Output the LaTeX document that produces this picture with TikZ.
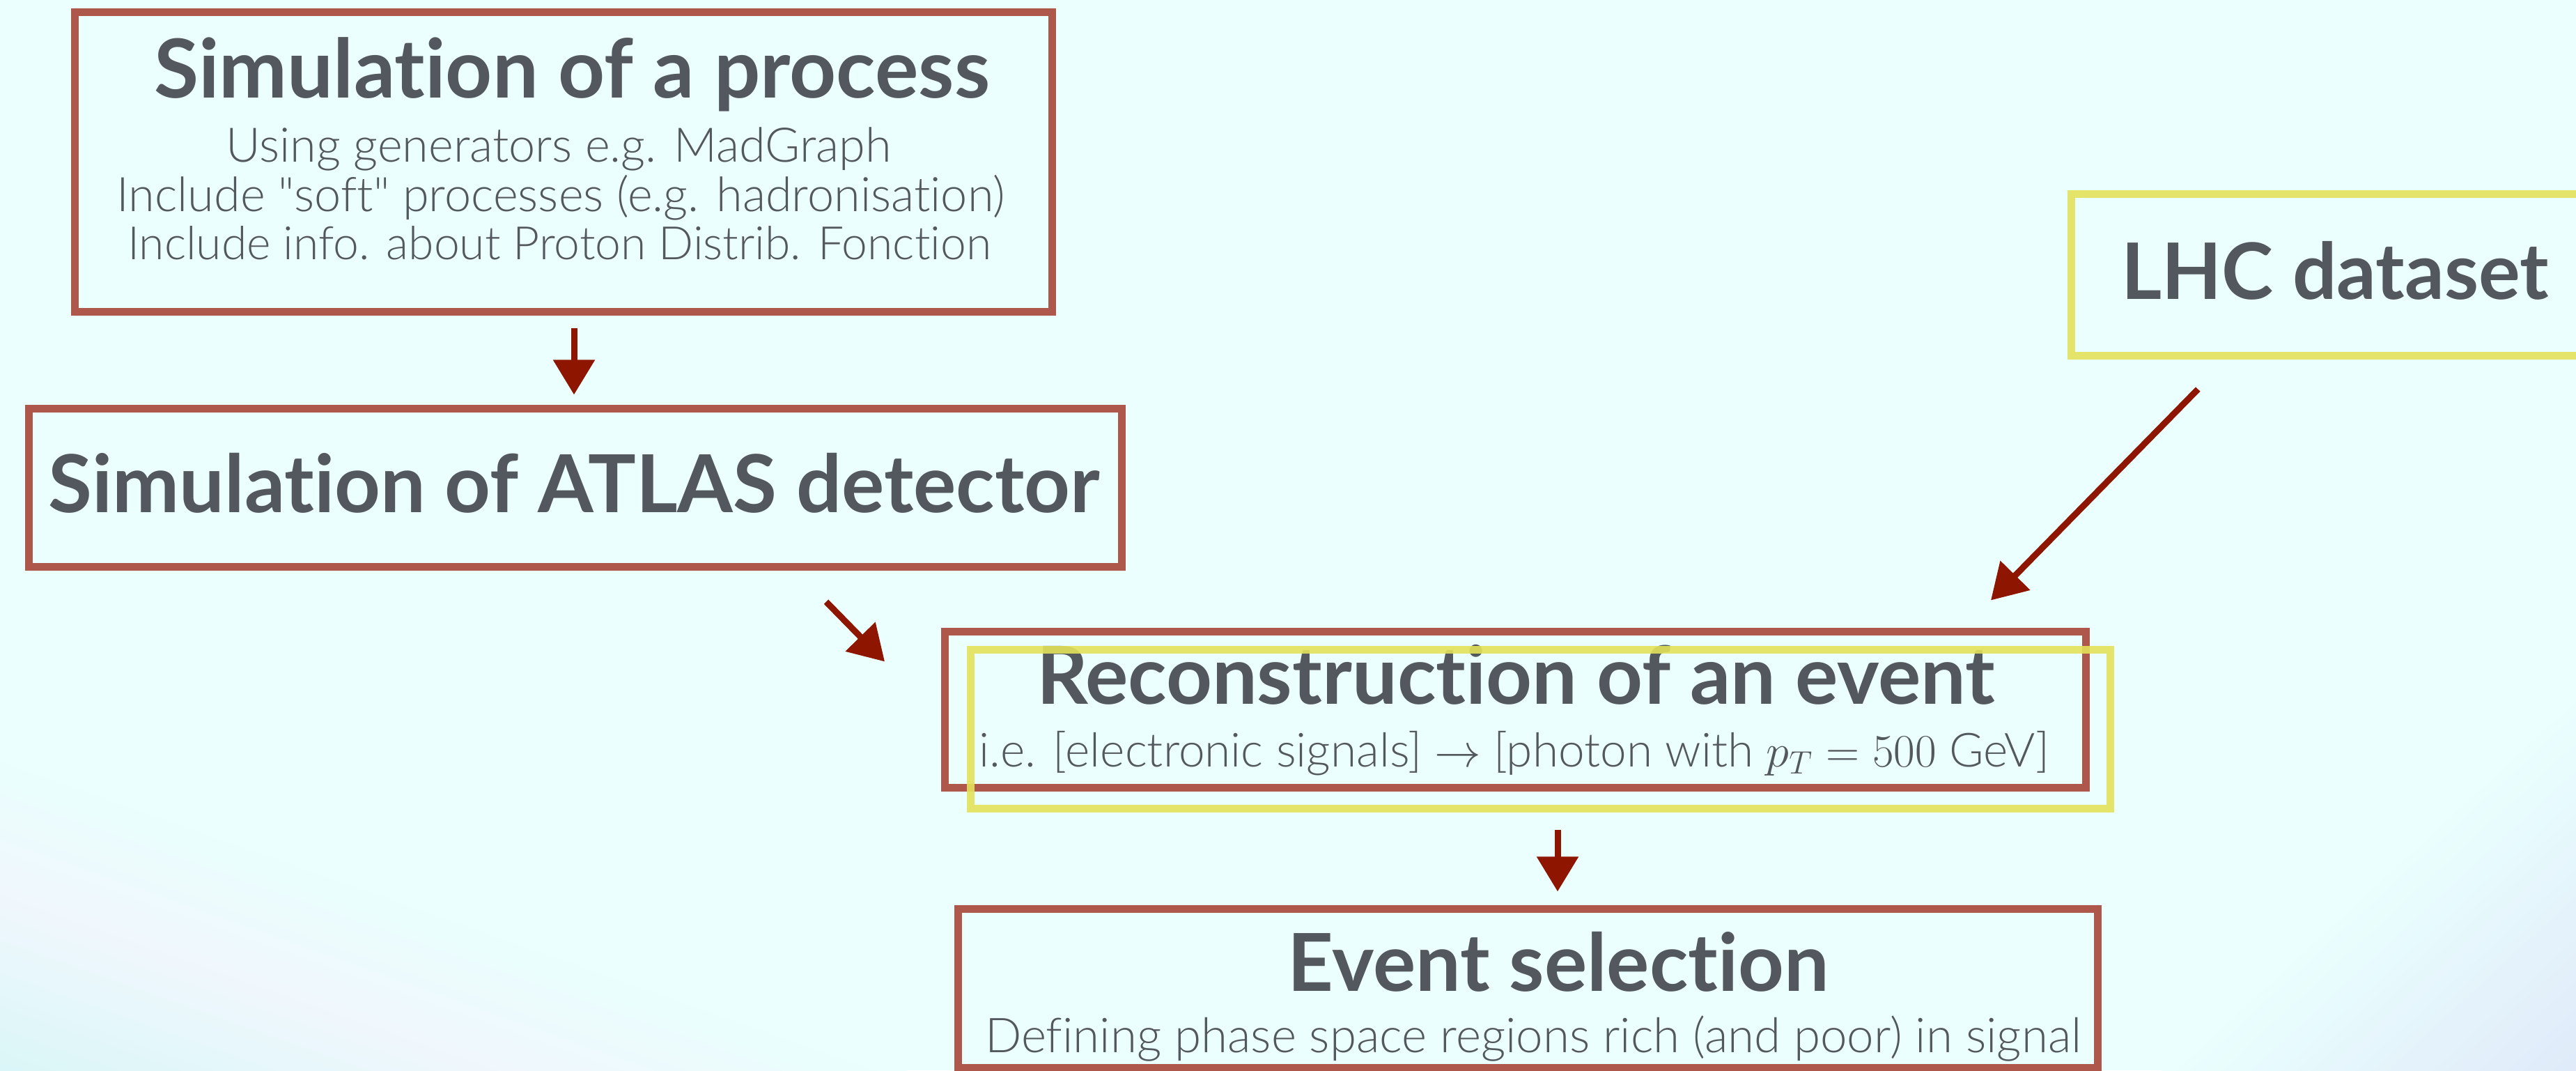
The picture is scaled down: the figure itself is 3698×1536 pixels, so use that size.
\documentclass[tikz,border=0pt]{standalone}
\usepackage{fontspec}
\setmainfont{Lato}[Ligatures={TeXOff,NoCommon}]
\newfontfamily\lightfont{Lato Light}[Ligatures={TeXOff,NoCommon}]
\usetikzlibrary{arrows.meta,calc}
\definecolor{bgc}{HTML}{EAFFFE}
\definecolor{lavc}{HTML}{F0F7FD}
\definecolor{cyc}{HTML}{D8F6F7}
\definecolor{brc}{HTML}{E0EAF9}
\definecolor{boxred}{HTML}{AE574B}
\definecolor{boxyel}{HTML}{E4E25A}
\definecolor{arrred}{HTML}{8E1600}
\definecolor{txt}{HTML}{53575E}
\newcommand{\fitw}[2]{\resizebox{#1}{!}{#2}}
\begin{document}
\begin{tikzpicture}[x=0.01cm,y=-0.01cm,
  redbox/.style={draw=boxred, line width=0.11cm, inner sep=0pt, rectangle},
  yelbox/.style={draw=boxyel, draw opacity=0.9, line width=0.11cm, inner sep=0pt, rectangle},
  ttl/.style={anchor=base, inner sep=0pt, text=txt, font=\fontsize{30}{36}\selectfont\bfseries},
  sub/.style={anchor=base, inner sep=0pt, text=txt, font=\fontsize{17.5}{21}\selectfont\lightfont},
  arr/.style={draw=arrred, line width=0.09cm, -{Triangle[length=0.5cm,width=0.58cm]}},
]
\useasboundingbox (0,0) rectangle (3698,1536);
\clip (0,0) rectangle (3698,1536);
\fill[bgc] (0,0) rectangle (3698,1536);
% bottom-left background bands
\foreach \i in {0,...,29}{
  \pgfmathsetmacro{\ta}{\i*16}
  \pgfmathsetmacro{\tb}{\i*16+17}
  \ifnum\i<12
    \pgfmathsetmacro{\p}{\i/12*100}
    \colorlet{bandc}{lavc!\p!bgc}
  \else
    \pgfmathsetmacro{\p}{(\i-12)/18*100}
    \colorlet{bandc}{cyc!\p!lavc}
  \fi
  \fill[bandc] (0,{1077+\ta}) -- (2000,{1783+\ta}) -- (2000,{1783+\tb}) -- (0,{1077+\tb}) -- cycle;
}
% bottom-right background bands
\foreach \i in {0,...,27}{
  \pgfmathsetmacro{\ca}{4400+\i*20}
  \pgfmathsetmacro{\cb}{4421+\i*20}
  \pgfmathsetmacro{\p}{\i/27*100}
  \colorlet{bandc}{brc!\p!bgc}
  \fill[bandc] (2800,{\ca-2584}) -- (3698,{\ca-3413}) -- (3698,{\cb-3413}) -- (2800,{\cb-2584}) -- cycle;
}
% red boxes
\node[redbox, minimum width=14.02cm, minimum height=4.29cm] (b1) at (809,232.5) {};
\node[redbox, minimum width=15.68cm, minimum height=2.26cm] (b2) at (826,700) {};
\node[redbox, minimum width=16.37cm, minimum height=2.23cm] (b3) at (2175.5,1018.5) {};
\node[redbox, minimum width=16.35cm, minimum height=2.27cm] (b5) at (2193.5,1418.5) {};
% texts
\node[ttl] (t1) at (821,140) {\fitw{11.99cm}{Simulation of a process}};
\node[sub] (l1) at (802,232) {\fitw{9.55cm}{Using generators e.g. MadGraph}};
\node[sub] (l2) at (805,303) {\fitw{12.74cm}{Include "soft" processes (e.g. hadronisation)}};
\node[sub] (l3) at (803,372) {\fitw{12.39cm}{Include info. about Proton Distrib. Fonction}};
\node[ttl] (t2) at (824,735) {\fitw{15.08cm}{Simulation of ATLAS detector}};
\node[ttl] (t3) at (2176,1010) {\fitw{13.75cm}{Reconstruction of an event}};
\node[sub] (s3) at (2174,1100) {\fitw{15.36cm}{i.e. [electronic signals] $\rightarrow$ [photon with $p_T = 500$ GeV]}};
\node[ttl] (tl) at (3352,429) {\fitw{6.13cm}{LHC dataset}};
\node[ttl] (t5) at (2237,1422) {\fitw{7.77cm}{Event selection}};
\node[sub] (s5) at (2201,1510) {\fitw{15.73cm}{Defining phase space regions rich (and poor) in signal}};
% yellow boxes
\node[yelbox, minimum width=16.35cm, minimum height=2.27cm] (b3y) at (2211.5,1046.5) {};
\node[yelbox, minimum width=7.86cm, minimum height=2.31cm] (lhc) at (3367,394.5) {};
% arrow end points
\coordinate (a1s) at ($(b1.south)+(15,18)$);
\coordinate (a1e) at ($(b2.north)+(-2,-15)$);
\coordinate (a2s) at ($(b2.south east)+(-430,45)$);
\coordinate (a2e) at ($(b3.north west)+(-81,48)$);
\coordinate (a3s) at ($(lhc.south west)+(187,43)$);
\coordinate (a3e) at ($(b3.north east)+(-142,-40)$);
\coordinate (a4s) at ($(b3y.south)+(24.5,25)$);
\coordinate (a4e) at ($(b5.north)+(42.5,-20)$);
\draw[arr] (a1s) -- (a1e);
\draw[arr] (a2s) -- (a2e);
\draw[arr] (a3s) -- (a3e);
\draw[arr] (a4s) -- (a4e);
\end{tikzpicture}
\end{document}
